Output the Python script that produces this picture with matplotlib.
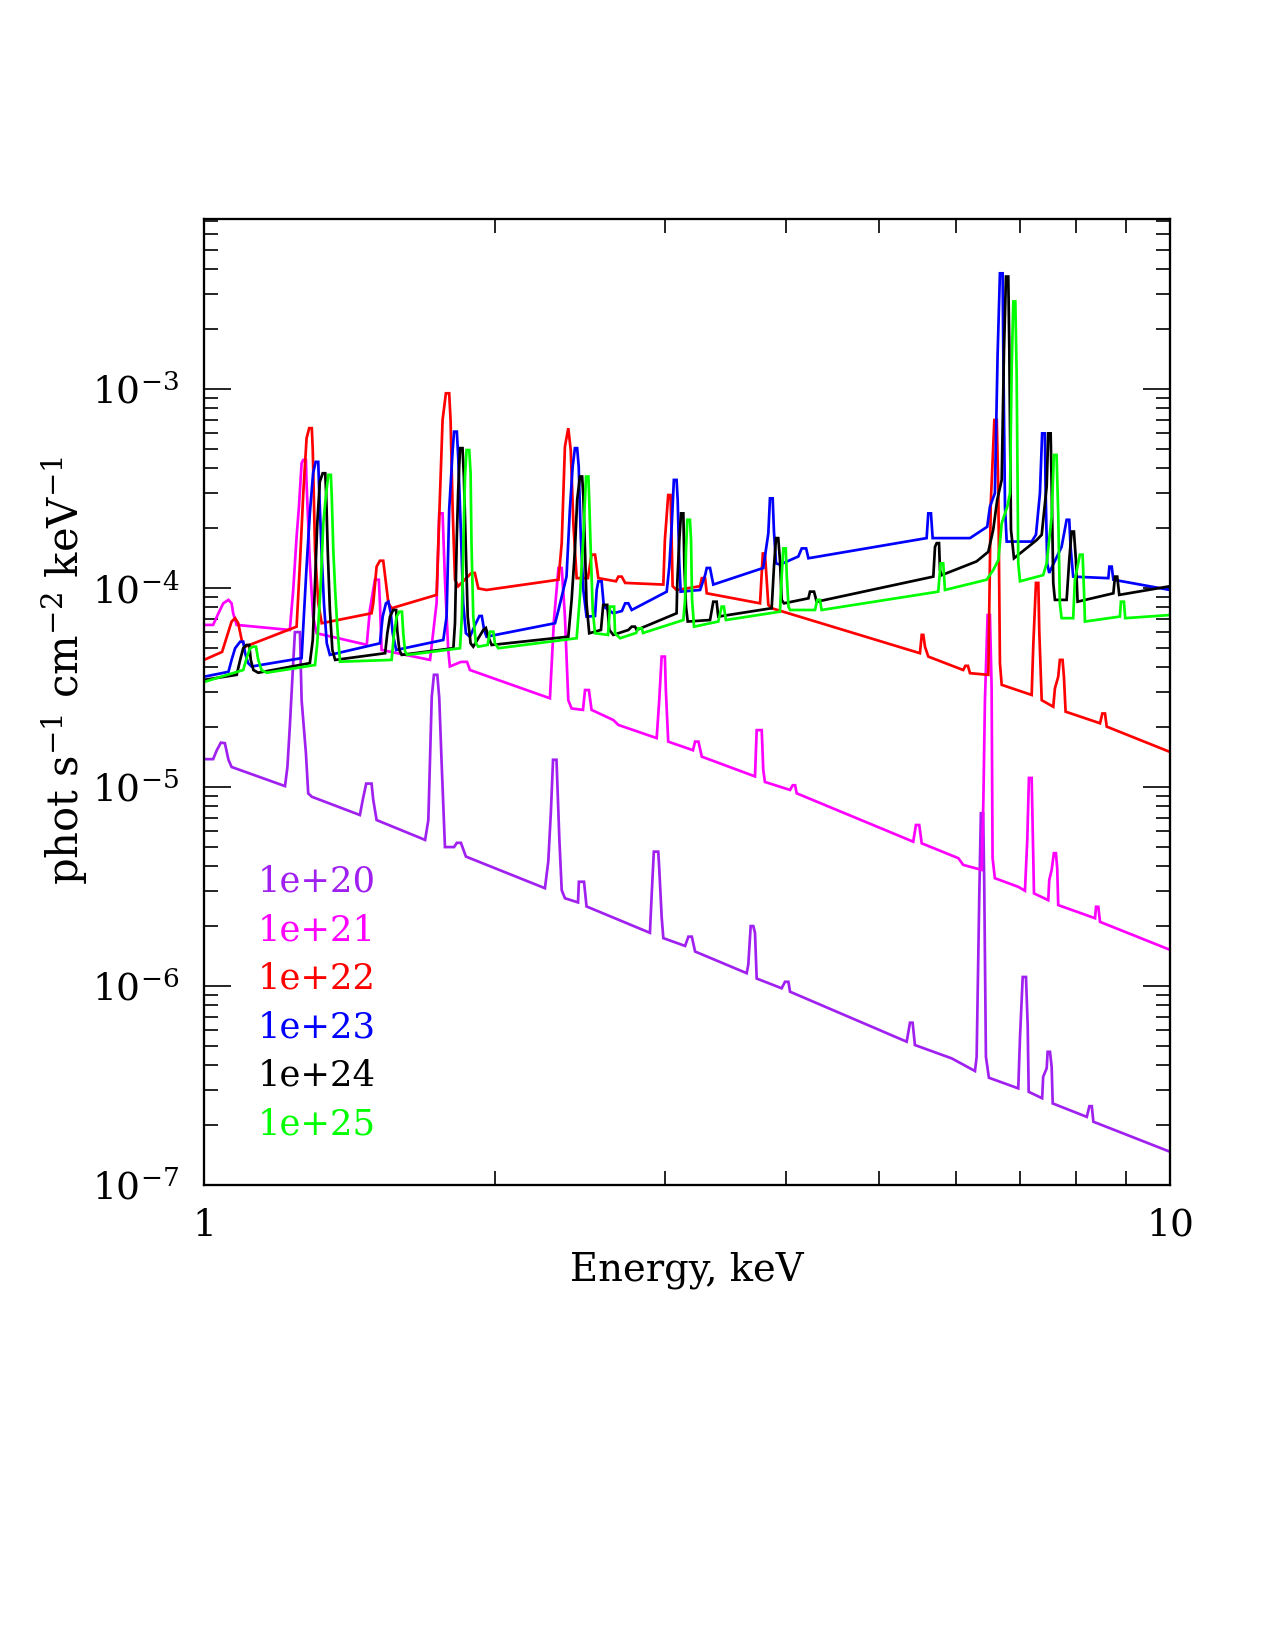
import matplotlib
matplotlib.use("Agg")
import matplotlib.pyplot as plt
from matplotlib.ticker import FixedLocator, NullFormatter, LogLocator, LogFormatterMathtext

# --- Spectra: (energy keV, phot s^-1 cm^-2 keV^-1) ---
NH_1E20 = [
    (1.000, 1.38e-5), (1.022, 1.38e-5), (1.031, 1.53e-5), (1.041, 1.67e-5), (1.051, 1.66e-5),
    (1.060, 1.37e-5), (1.068, 1.26e-5), (1.213, 1.01e-5), (1.220, 1.26e-5), (1.227, 2.01e-5),
    (1.235, 3.66e-5), (1.242, 6.0e-5), (1.257, 6.0e-5), (1.262, 2.73e-5), (1.275, 1.48e-5),
    (1.282, 9.29e-6), (1.293, 8.93e-6), (1.450, 7.23e-6), (1.460, 8.61e-6), (1.472, 1.04e-5),
    (1.491, 1.04e-5), (1.497, 8.61e-6), (1.509, 6.82e-6), (1.694, 5.42e-6), (1.707, 6.82e-6),
    (1.721, 2.84e-5), (1.730, 3.66e-5), (1.744, 3.66e-5), (1.752, 2.80e-5), (1.762, 1.32e-5),
    (1.776, 4.99e-6), (1.815, 4.99e-6), (1.827, 5.24e-6), (1.845, 5.24e-6), (1.867, 4.47e-6),
    (2.254, 3.10e-6), (2.272, 4.22e-6), (2.286, 7.40e-6), (2.298, 1.37e-5), (2.317, 1.37e-5),
    (2.333, 5.42e-6), (2.346, 3.03e-6), (2.364, 2.76e-6), (2.439, 2.63e-6), (2.444, 3.34e-6),
    (2.474, 3.34e-6), (2.489, 2.51e-6), (2.895, 1.85e-6), (2.907, 2.86e-6), (2.922, 4.73e-6),
    (2.953, 4.73e-6), (2.960, 3.90e-6), (2.977, 2.23e-6), (2.989, 1.74e-6), (3.148, 1.59e-6),
    (3.173, 1.77e-6), (3.199, 1.77e-6), (3.224, 1.49e-6), (3.646, 1.16e-6), (3.660, 1.28e-6),
    (3.681, 2.00e-6), (3.704, 2.00e-6), (3.719, 1.85e-6), (3.734, 1.09e-6), (3.963, 9.74e-7),
    (3.995, 1.05e-6), (4.027, 1.05e-6), (4.043, 9.36e-7), (5.339, 5.25e-7), (5.381, 6.54e-7),
    (5.415, 6.54e-7), (5.445, 5.05e-7), (5.943, 4.33e-7), (6.283, 3.74e-7), (6.308, 4.41e-7),
    (6.347, 2.76e-6), (6.372, 7.38e-6), (6.407, 7.38e-6), (6.423, 3.28e-6), (6.449, 4.41e-7),
    (6.495, 3.46e-7), (6.966, 3.06e-7), (6.995, 5.54e-7), (7.040, 1.11e-6), (7.095, 1.11e-6),
    (7.124, 6.37e-7), (7.141, 2.94e-7), (7.374, 2.73e-7), (7.392, 3.50e-7), (7.454, 3.86e-7),
    (7.471, 4.67e-7), (7.513, 4.67e-7), (7.543, 3.93e-7), (7.562, 2.57e-7), (8.202, 2.20e-7),
    (8.253, 2.49e-7), (8.300, 2.49e-7), (8.332, 2.08e-7), (10.0, 1.47e-7),
]

NH_1E21 = [
    (1.000, 6.52e-5), (1.022, 6.52e-5), (1.035, 7.46e-5), (1.047, 8.37e-5), (1.060, 8.71e-5),
    (1.068, 8.37e-5), (1.072, 7.46e-5), (1.081, 6.52e-5), (1.227, 6.15e-5), (1.237, 9.77e-5),
    (1.247, 1.81e-4), (1.254, 2.56e-4), (1.262, 4.24e-4), (1.267, 4.40e-4), (1.275, 4.40e-4),
    (1.277, 3.36e-4), (1.287, 1.33e-4), (1.297, 7.18e-5), (1.308, 5.92e-5), (1.474, 5.18e-5),
    (1.485, 7.75e-5), (1.503, 1.10e-4), (1.517, 1.10e-4), (1.521, 8.41e-5), (1.527, 4.88e-5),
    (1.714, 4.35e-5), (1.741, 8.41e-5), (1.752, 2.37e-4), (1.766, 2.37e-4), (1.776, 1.10e-4),
    (1.790, 4.88e-5), (1.797, 4.03e-5), (1.845, 4.25e-5), (1.872, 4.25e-5), (1.885, 3.87e-5),
    (2.281, 2.79e-5), (2.303, 6.90e-5), (2.328, 1.26e-4), (2.346, 1.26e-4), (2.364, 7.18e-5),
    (2.383, 2.73e-5), (2.402, 2.48e-5), (2.468, 2.44e-5), (2.480, 3.07e-5), (2.503, 3.07e-5),
    (2.519, 2.44e-5), (2.653, 2.17e-5), (2.685, 2.05e-5), (2.942, 1.76e-5), (2.960, 2.73e-5),
    (2.977, 4.52e-5), (3.000, 4.52e-5), (3.007, 3.07e-5), (3.024, 1.69e-5), (3.208, 1.53e-5),
    (3.224, 1.69e-5), (3.250, 1.69e-5), (3.276, 1.42e-5), (3.719, 1.13e-5), (3.734, 1.93e-5),
    (3.779, 1.93e-5), (3.793, 1.22e-5), (3.808, 1.06e-5), (4.043, 9.66e-6), (4.069, 1.02e-5),
    (4.092, 1.02e-5), (4.108, 9.29e-6), (5.423, 5.31e-6), (5.458, 6.44e-6), (5.501, 6.44e-6),
    (5.534, 5.21e-6), (6.038, 4.39e-6), (6.109, 4.06e-6), (6.384, 3.83e-6), (6.410, 8.61e-6),
    (6.434, 2.73e-5), (6.475, 7.31e-5), (6.511, 7.31e-5), (6.537, 3.19e-5), (6.552, 4.39e-6),
    (6.588, 3.48e-6), (6.966, 3.15e-6), (7.078, 3.01e-6), (7.117, 5.42e-6), (7.145, 1.11e-5),
    (7.192, 1.11e-5), (7.209, 6.31e-6), (7.232, 2.92e-6), (7.482, 2.70e-6), (7.500, 3.41e-6),
    (7.543, 3.83e-6), (7.583, 4.65e-6), (7.620, 4.65e-6), (7.644, 3.90e-6), (7.662, 2.55e-6),
    (8.365, 2.19e-6), (8.385, 2.50e-6), (8.430, 2.50e-6), (8.465, 2.10e-6), (10.0, 1.52e-6),
]

NH_1E22 = [
    (1.000, 4.35e-5), (1.044, 4.77e-5), (1.056, 5.69e-5), (1.068, 6.78e-5), (1.077, 7.05e-5),
    (1.085, 6.65e-5), (1.094, 5.48e-5), (1.103, 5.07e-5), (1.247, 6.39e-5), (1.257, 1.33e-4),
    (1.267, 2.99e-4), (1.277, 5.65e-4), (1.285, 6.35e-4), (1.293, 6.35e-4), (1.296, 4.93e-4),
    (1.303, 1.55e-4), (1.313, 8.41e-5), (1.324, 6.65e-5), (1.491, 7.46e-5), (1.497, 8.37e-5),
    (1.509, 1.28e-4), (1.521, 1.37e-4), (1.533, 1.37e-4), (1.543, 1.06e-4), (1.552, 8.37e-5),
    (1.564, 7.91e-5), (1.741, 9.23e-5), (1.752, 2.28e-4), (1.766, 6.98e-4), (1.780, 9.51e-4),
    (1.794, 9.51e-4), (1.800, 6.98e-4), (1.809, 2.47e-4), (1.819, 1.10e-4), (1.833, 1.02e-4),
    (1.892, 1.19e-4), (1.907, 1.19e-4), (1.923, 9.95e-5), (1.961, 9.77e-5), (2.328, 1.10e-4),
    (2.346, 1.68e-4), (2.364, 5.13e-4), (2.383, 6.35e-4), (2.397, 4.93e-4), (2.412, 2.11e-4),
    (2.431, 1.12e-4), (2.497, 1.12e-4), (2.519, 1.47e-4), (2.540, 1.47e-4), (2.560, 1.12e-4),
    (2.670, 1.08e-4), (2.685, 1.14e-4), (2.707, 1.14e-4), (2.729, 1.06e-4), (2.989, 1.04e-4),
    (3.000, 1.74e-4), (3.024, 2.93e-4), (3.041, 2.93e-4), (3.049, 1.74e-4), (3.056, 1.02e-4),
    (3.085, 9.77e-5), (3.263, 1.02e-4), (3.276, 1.12e-4), (3.302, 1.12e-4), (3.315, 9.40e-5),
    (3.764, 8.37e-5), (3.789, 1.49e-4), (3.808, 1.49e-4), (3.824, 1.10e-4), (3.839, 8.22e-5),
    (3.870, 7.91e-5), (5.510, 4.70e-5), (5.534, 5.81e-5), (5.555, 5.81e-5), (5.577, 5.07e-5),
    (5.621, 4.52e-5), (6.109, 3.87e-5), (6.141, 4.06e-5), (6.178, 4.06e-5), (6.209, 3.73e-5),
    (6.486, 3.66e-5), (6.524, 2.67e-4), (6.580, 6.98e-4), (6.618, 6.98e-4), (6.643, 2.99e-4),
    (6.668, 4.19e-5), (6.696, 3.26e-5), (7.192, 2.90e-5), (7.220, 5.18e-5), (7.266, 1.06e-4),
    (7.307, 1.06e-4), (7.324, 6.03e-5), (7.366, 2.73e-5), (7.572, 2.53e-5), (7.602, 3.13e-5),
    (7.662, 3.58e-5), (7.692, 4.35e-5), (7.742, 4.35e-5), (7.767, 3.58e-5), (7.798, 2.39e-5),
    (8.465, 2.09e-5), (8.511, 2.34e-5), (8.566, 2.34e-5), (8.601, 2.01e-5), (10.0, 1.50e-5),
]

NH_1E23 = [
    (1.000, 3.58e-5), (1.060, 3.79e-5), (1.068, 4.35e-5), (1.077, 4.98e-5), (1.090, 5.37e-5),
    (1.098, 5.37e-5), (1.103, 4.70e-5), (1.111, 4.19e-5), (1.120, 4.03e-5), (1.262, 4.44e-5),
    (1.267, 6.39e-5), (1.277, 1.28e-4), (1.287, 2.37e-4), (1.297, 3.77e-4), (1.305, 4.30e-4),
    (1.313, 4.30e-4), (1.316, 3.10e-4), (1.324, 1.44e-4), (1.331, 8.37e-5), (1.340, 5.27e-5),
    (1.350, 4.61e-5), (1.521, 5.27e-5), (1.531, 7.18e-5), (1.543, 8.37e-5), (1.552, 8.53e-5),
    (1.561, 7.46e-5), (1.568, 5.92e-5), (1.581, 4.88e-5), (1.769, 5.48e-5), (1.783, 7.18e-5),
    (1.794, 2.47e-4), (1.809, 4.93e-4), (1.815, 6.10e-4), (1.827, 6.10e-4), (1.833, 4.57e-4),
    (1.844, 2.03e-4), (1.855, 8.37e-5), (1.867, 5.92e-5), (1.885, 5.69e-5), (1.912, 6.65e-5),
    (1.928, 7.23e-5), (1.939, 7.23e-5), (1.950, 6.15e-5), (1.961, 5.69e-5), (2.309, 6.65e-5),
    (2.328, 7.75e-5), (2.373, 1.14e-4), (2.392, 2.47e-4), (2.408, 4.07e-4), (2.421, 5.04e-4),
    (2.434, 5.04e-4), (2.443, 4.07e-4), (2.455, 1.81e-4), (2.470, 9.77e-5), (2.489, 7.18e-5),
    (2.540, 7.23e-5), (2.550, 9.77e-5), (2.560, 1.08e-4), (2.580, 1.08e-4), (2.594, 8.06e-5),
    (2.653, 7.46e-5), (2.708, 7.66e-5), (2.729, 8.37e-5), (2.750, 8.37e-5), (2.772, 7.75e-5),
    (3.013, 9.58e-5), (3.032, 1.28e-4), (3.049, 2.03e-4), (3.065, 3.49e-4), (3.085, 3.49e-4),
    (3.093, 2.77e-4), (3.105, 1.33e-4), (3.115, 9.58e-5), (3.263, 9.77e-5), (3.302, 1.16e-4),
    (3.315, 1.26e-4), (3.341, 1.26e-4), (3.367, 1.04e-4), (3.793, 1.26e-4), (3.839, 1.88e-4),
    (3.854, 2.82e-4), (3.879, 2.82e-4), (3.891, 1.92e-4), (3.910, 1.33e-4), (3.947, 1.31e-4),
    (4.124, 1.44e-4), (4.157, 1.58e-4), (4.201, 1.58e-4), (4.224, 1.41e-4), (5.599, 1.78e-4),
    (5.621, 2.37e-4), (5.657, 2.37e-4), (5.680, 1.78e-4), (6.209, 1.78e-4), (6.469, 2.03e-4),
    (6.511, 2.56e-4), (6.588, 2.99e-4), (6.631, 1.48e-3), (6.668, 3.81e-3), (6.711, 3.81e-3),
    (6.721, 1.63e-3), (6.749, 2.56e-4), (6.776, 1.71e-4), (7.192, 1.71e-4), (7.266, 1.85e-4),
    (7.335, 2.99e-4), (7.374, 5.98e-4), (7.422, 5.98e-4), (7.434, 3.23e-4), (7.463, 1.33e-4),
    (7.499, 1.19e-4), (7.724, 1.61e-4), (7.817, 2.20e-4), (7.866, 2.20e-4), (7.891, 1.61e-4),
    (7.940, 1.14e-4), (8.634, 1.12e-4), (8.656, 1.28e-4), (8.704, 1.28e-4), (8.738, 1.10e-4),
    (10.0, 9.77e-5),
]

NH_1E24 = [
    (1.000, 3.45e-5), (1.081, 3.66e-5), (1.090, 4.35e-5), (1.098, 4.98e-5), (1.107, 5.17e-5),
    (1.114, 5.17e-5), (1.118, 4.35e-5), (1.125, 3.87e-5), (1.138, 3.75e-5), (1.287, 4.19e-5),
    (1.296, 5.48e-5), (1.303, 1.06e-4), (1.310, 2.11e-4), (1.318, 3.42e-4), (1.327, 3.77e-4),
    (1.335, 3.77e-4), (1.338, 2.99e-4), (1.343, 1.55e-4), (1.350, 7.75e-5), (1.358, 4.88e-5),
    (1.367, 4.35e-5), (1.540, 4.70e-5), (1.548, 5.92e-5), (1.558, 7.18e-5), (1.570, 7.75e-5),
    (1.581, 7.75e-5), (1.585, 6.15e-5), (1.593, 4.88e-5), (1.602, 4.61e-5), (1.812, 4.98e-5),
    (1.819, 6.65e-5), (1.827, 1.81e-4), (1.833, 3.10e-4), (1.841, 5.04e-4), (1.852, 5.04e-4),
    (1.858, 3.63e-4), (1.866, 1.68e-4), (1.875, 7.18e-5), (1.888, 5.27e-5), (1.900, 5.07e-5),
    (1.946, 6.15e-5), (1.958, 6.29e-5), (1.969, 5.69e-5), (1.985, 5.17e-5), (2.383, 5.69e-5),
    (2.402, 8.71e-5), (2.421, 1.55e-4), (2.434, 2.77e-4), (2.450, 3.63e-4), (2.463, 3.63e-4),
    (2.470, 2.88e-4), (2.480, 1.55e-4), (2.489, 8.37e-5), (2.505, 5.92e-5), (2.576, 6.15e-5),
    (2.590, 8.22e-5), (2.615, 8.22e-5), (2.628, 6.15e-5), (2.653, 5.81e-5), (2.750, 6.15e-5),
    (2.772, 6.39e-5), (2.794, 6.39e-5), (2.805, 6.15e-5), (3.085, 7.46e-5), (3.090, 1.06e-4),
    (3.105, 1.74e-4), (3.118, 2.37e-4), (3.135, 2.37e-4), (3.143, 1.28e-4), (3.155, 8.06e-5),
    (3.168, 6.78e-5), (3.341, 6.90e-5), (3.367, 8.53e-5), (3.394, 8.53e-5), (3.407, 7.18e-5),
    (3.870, 7.91e-5), (3.891, 1.28e-4), (3.910, 1.78e-4), (3.931, 1.78e-4), (3.947, 1.38e-4),
    (3.963, 8.71e-5), (3.985, 8.37e-5), (4.224, 8.87e-5), (4.240, 9.58e-5), (4.281, 9.58e-5),
    (4.308, 8.53e-5), (5.689, 1.14e-4), (5.712, 1.61e-4), (5.735, 1.68e-4), (5.767, 1.68e-4),
    (5.780, 1.23e-4), (5.804, 1.16e-4), (6.308, 1.36e-4), (6.486, 1.52e-4), (6.562, 1.96e-4),
    (6.625, 2.77e-4), (6.696, 3.49e-4), (6.733, 1.57e-3), (6.765, 3.67e-3), (6.802, 3.67e-3),
    (6.819, 1.57e-3), (6.846, 1.96e-4), (6.895, 1.41e-4), (7.278, 1.74e-4), (7.366, 1.85e-4),
    (7.454, 3.23e-4), (7.482, 5.98e-4), (7.525, 5.98e-4), (7.543, 3.23e-4), (7.572, 1.06e-4),
    (7.602, 8.71e-5), (7.817, 8.71e-5), (7.866, 1.38e-4), (7.910, 1.92e-4), (7.954, 1.92e-4),
    (7.992, 1.38e-4), (8.024, 8.53e-5), (8.738, 9.40e-5), (8.772, 1.14e-4), (8.819, 1.14e-4),
    (8.862, 9.23e-5), (10.0, 1.02e-4),
]

NH_1E25 = [
    (1.000, 3.37e-5), (1.098, 3.87e-5), (1.107, 4.44e-5), (1.116, 4.98e-5), (1.125, 5.07e-5),
    (1.132, 5.07e-5), (1.138, 4.35e-5), (1.147, 3.87e-5), (1.161, 3.75e-5), (1.303, 4.10e-5),
    (1.310, 5.27e-5), (1.321, 1.06e-4), (1.329, 2.11e-4), (1.338, 2.99e-4), (1.345, 3.70e-4),
    (1.353, 3.70e-4), (1.356, 2.88e-4), (1.361, 1.55e-4), (1.367, 9.77e-5), (1.374, 6.39e-5),
    (1.383, 4.26e-5), (1.564, 4.35e-5), (1.573, 5.92e-5), (1.583, 7.18e-5), (1.593, 7.60e-5),
    (1.603, 7.60e-5), (1.608, 5.92e-5), (1.615, 4.79e-5), (1.624, 4.61e-5), (1.841, 4.98e-5),
    (1.849, 7.18e-5), (1.855, 1.55e-4), (1.863, 3.63e-4), (1.870, 4.93e-4), (1.882, 4.93e-4),
    (1.888, 3.77e-4), (1.892, 1.68e-4), (1.900, 7.18e-5), (1.912, 5.27e-5), (1.923, 5.07e-5),
    (1.966, 5.17e-5), (1.977, 6.03e-5), (1.993, 6.03e-5), (2.001, 5.27e-5), (2.017, 4.98e-5),
    (2.431, 5.59e-5), (2.450, 9.04e-5), (2.470, 1.81e-4), (2.486, 3.63e-4), (2.500, 3.63e-4),
    (2.505, 2.77e-4), (2.514, 1.55e-4), (2.526, 7.75e-5), (2.540, 5.92e-5), (2.620, 5.81e-5),
    (2.632, 8.06e-5), (2.658, 8.06e-5), (2.664, 5.92e-5), (2.696, 5.59e-5), (2.801, 5.94e-5),
    (2.816, 6.27e-5), (2.839, 6.27e-5), (2.848, 5.94e-5), (3.135, 6.90e-5), (3.148, 8.71e-5),
    (3.155, 1.55e-4), (3.165, 2.20e-4), (3.185, 2.20e-4), (3.193, 1.74e-4), (3.201, 8.71e-5),
    (3.216, 6.39e-5), (3.407, 6.78e-5), (3.435, 8.06e-5), (3.453, 8.06e-5), (3.470, 6.90e-5),
    (3.947, 7.60e-5), (3.963, 1.14e-4), (3.979, 1.58e-4), (4.002, 1.58e-4), (4.012, 1.14e-4),
    (4.028, 8.06e-5), (4.043, 7.75e-5), (4.291, 7.75e-5), (4.314, 8.71e-5), (4.342, 8.71e-5),
    (4.359, 7.75e-5), (5.756, 9.58e-5), (5.789, 1.33e-4), (5.825, 1.33e-4), (5.849, 9.77e-5),
    (6.460, 1.10e-4), (6.562, 1.23e-4), (6.643, 1.38e-4), (6.696, 2.11e-4), (6.749, 2.37e-4),
    (6.786, 2.56e-4), (6.830, 2.99e-4), (6.857, 1.25e-3), (6.884, 2.75e-3), (6.917, 2.75e-3),
    (6.939, 1.20e-3), (6.966, 1.33e-4), (6.995, 1.08e-4), (7.392, 1.16e-4), (7.454, 1.33e-4),
    (7.543, 2.28e-4), (7.583, 4.66e-4), (7.632, 4.66e-4), (7.662, 2.37e-4), (7.692, 8.37e-5),
    (7.724, 7.05e-5), (7.940, 7.05e-5), (7.973, 1.10e-4), (8.068, 1.47e-4), (8.120, 1.47e-4),
    (8.147, 9.77e-5), (8.166, 6.78e-5), (8.875, 7.18e-5), (8.897, 8.53e-5), (8.961, 8.53e-5),
    (8.989, 7.05e-5), (10.0, 7.31e-5),
]

SERIES = [NH_1E20, NH_1E21, NH_1E22, NH_1E23, NH_1E24, NH_1E25]
LABELS = ['1e+20', '1e+21', '1e+22', '1e+23', '1e+24', '1e+25']
COLORS = ['#a020f0', '#ff00ff', '#ff0000', '#0000ff', '#000000', '#00ff00']

plt.rcParams['font.family'] = ['DejaVu Serif']
plt.rcParams['mathtext.fontset'] = 'dejavuserif'

fig = plt.figure(figsize=(8.5, 11), dpi=150)
ax = fig.add_axes([0.16, 0.2818, 0.7576, 0.5855])

for pts, color in zip(SERIES, COLORS):
    energy, flux = zip(*pts)
    ax.plot(energy, flux, color=color, lw=1.3, solid_joinstyle='miter')

ax.set_xscale('log')
ax.set_yscale('log')
ax.set_xlim(1, 10)
ax.set_ylim(1e-7, 10 ** -2.146)

# x axis: only 1 and 10 labelled, minor ticks in between
ax.xaxis.set_major_locator(FixedLocator([1, 10]))
ax.set_xticklabels(['1', '10'])
ax.xaxis.set_minor_locator(FixedLocator([2, 3, 4, 5, 6, 7, 8, 9]))
ax.xaxis.set_minor_formatter(NullFormatter())

ax.yaxis.set_major_locator(LogLocator(base=10, numticks=10))
ax.yaxis.set_major_formatter(LogFormatterMathtext())
ax.yaxis.set_minor_locator(LogLocator(base=10, subs=range(2, 10), numticks=20))
ax.yaxis.set_minor_formatter(NullFormatter())

ax.tick_params(which='both', direction='in', top=True, right=True, width=0.8)
ax.tick_params(which='major', length=13, labelsize=18)
ax.tick_params(which='minor', length=6.5)
ax.tick_params(axis='y', which='major', pad=12)
ax.tick_params(axis='x', which='major', pad=11)
for spine in ax.spines.values():
    spine.set_linewidth(1.1)

ax.text(0.5, -0.088, 'Energy, keV', transform=ax.transAxes, ha='center', va='center',
        fontsize=18.5)
ax.text(-0.144, 0.533, 'phot s$^{-1}$ cm$^{-2}$ keV$^{-1}$', transform=ax.transAxes,
        ha='center', va='center', rotation=90, fontsize=20)

# coloured column labels in the lower left
for i, (label, color) in enumerate(zip(LABELS, COLORS)):
    ax.text(0.056, 0.314 - 0.0502 * i, label, transform=ax.transAxes, color=color,
            fontsize=17, ha='left', va='center')

fig.savefig('out.png', dpi=150)
